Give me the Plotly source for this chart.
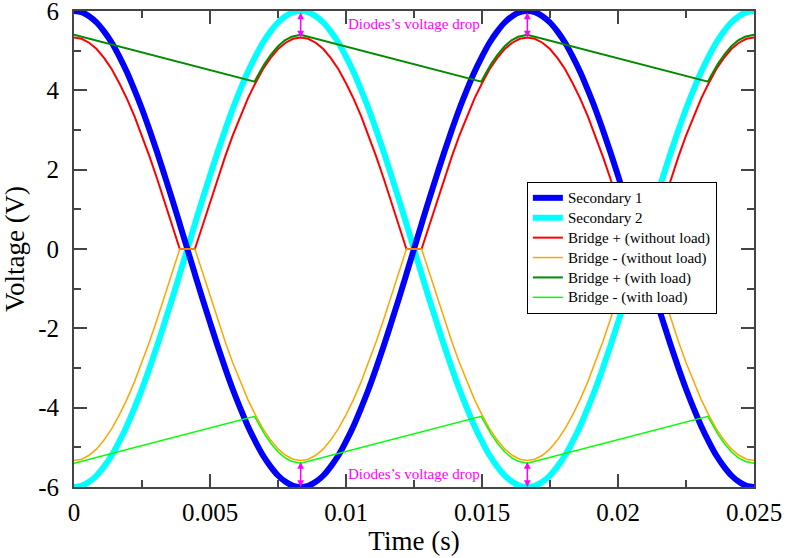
import plotly.graph_objects as go

# ---- data ----
t_grid = [0.0, 0.000278, 0.000556, 0.000833, 0.001111, 0.001389, 0.001667, 0.001944, 0.002222, 0.0025,
          0.002778, 0.003056, 0.003333, 0.003611, 0.003889, 0.004167, 0.004444, 0.004722, 0.005, 0.005278,
          0.005556, 0.005833, 0.006111, 0.006389, 0.006667, 0.006944, 0.007222, 0.0075, 0.007778, 0.008056,
          0.008333, 0.008611, 0.008889, 0.009167, 0.009444, 0.009722, 0.01, 0.010278, 0.010556, 0.010833,
          0.011111, 0.011389, 0.011667, 0.011944, 0.012222, 0.0125, 0.012778, 0.013056, 0.013333, 0.013611,
          0.013889, 0.014167, 0.014444, 0.014722, 0.015, 0.015278, 0.015556, 0.015833, 0.016111, 0.016389,
          0.016667, 0.016944, 0.017222, 0.0175, 0.017778, 0.018056, 0.018333, 0.018611, 0.018889, 0.019167,
          0.019444, 0.019722, 0.02, 0.020278, 0.020556, 0.020833, 0.021111, 0.021389, 0.021667, 0.021944,
          0.022222, 0.0225, 0.022778, 0.023056, 0.023333, 0.023611, 0.023889, 0.024167, 0.024444, 0.024722,
          0.025]

secondary1 = [6.00, 5.97, 5.87, 5.71, 5.48, 5.20, 4.85, 4.46, 4.01, 3.53, 3.00, 2.44, 1.85, 1.25, 0.63, 0.00,
              -0.63, -1.25, -1.85, -2.44, -3.00, -3.53, -4.01, -4.46, -4.85, -5.20, -5.48, -5.71, -5.87, -5.97, -6.00,
              -5.97, -5.87, -5.71, -5.48, -5.20, -4.85, -4.46, -4.01, -3.53, -3.00, -2.44, -1.85, -1.25, -0.63, 0.00,
              0.63, 1.25, 1.85, 2.44, 3.00, 3.53, 4.01, 4.46, 4.85, 5.20, 5.48, 5.71, 5.87, 5.97, 6.00,
              5.97, 5.87, 5.71, 5.48, 5.20, 4.85, 4.46, 4.01, 3.53, 3.00, 2.44, 1.85, 1.25, 0.63, 0.00,
              -0.63, -1.25, -1.85, -2.44, -3.00, -3.53, -4.01, -4.46, -4.85, -5.20, -5.48, -5.71, -5.87, -5.97, -6.00]

secondary2 = [-6.00, -5.97, -5.87, -5.71, -5.48, -5.20, -4.85, -4.46, -4.01, -3.53, -3.00, -2.44, -1.85, -1.25, -0.63, 0.00,
              0.63, 1.25, 1.85, 2.44, 3.00, 3.53, 4.01, 4.46, 4.85, 5.20, 5.48, 5.71, 5.87, 5.97, 6.00,
              5.97, 5.87, 5.71, 5.48, 5.20, 4.85, 4.46, 4.01, 3.53, 3.00, 2.44, 1.85, 1.25, 0.63, 0.00,
              -0.63, -1.25, -1.85, -2.44, -3.00, -3.53, -4.01, -4.46, -4.85, -5.20, -5.48, -5.71, -5.87, -5.97, -6.00,
              -5.97, -5.87, -5.71, -5.48, -5.20, -4.85, -4.46, -4.01, -3.53, -3.00, -2.44, -1.85, -1.25, -0.63, 0.00,
              0.63, 1.25, 1.85, 2.44, 3.00, 3.53, 4.01, 4.46, 4.85, 5.20, 5.48, 5.71, 5.87, 5.97, 6.00]

bridge_pos_noload = [5.33, 5.30, 5.20, 5.04, 4.81, 4.53, 4.18, 3.79, 3.35, 2.86, 2.33, 1.77, 1.18, 0.58, 0.00, 0.00,
                     0.00, 0.58, 1.18, 1.77, 2.33, 2.86, 3.35, 3.79, 4.18, 4.53, 4.81, 5.04, 5.20, 5.30, 5.33,
                     5.30, 5.20, 5.04, 4.81, 4.53, 4.18, 3.79, 3.35, 2.86, 2.33, 1.77, 1.18, 0.58, 0.00, 0.00,
                     0.00, 0.58, 1.18, 1.77, 2.33, 2.86, 3.35, 3.79, 4.18, 4.53, 4.81, 5.04, 5.20, 5.30, 5.33,
                     5.30, 5.20, 5.04, 4.81, 4.53, 4.18, 3.79, 3.35, 2.86, 2.33, 1.77, 1.18, 0.58, 0.00, 0.00,
                     0.00, 0.58, 1.18, 1.77, 2.33, 2.86, 3.35, 3.79, 4.18, 4.53, 4.81, 5.04, 5.20, 5.30, 5.33]

bridge_neg_noload = [-5.33, -5.30, -5.20, -5.04, -4.81, -4.53, -4.18, -3.79, -3.35, -2.86, -2.33, -1.77, -1.18, -0.58, 0.00, 0.00,
                     0.00, -0.58, -1.18, -1.77, -2.33, -2.86, -3.35, -3.79, -4.18, -4.53, -4.81, -5.04, -5.20, -5.30, -5.33,
                     -5.30, -5.20, -5.04, -4.81, -4.53, -4.18, -3.79, -3.35, -2.86, -2.33, -1.77, -1.18, -0.58, 0.00, 0.00,
                     0.00, -0.58, -1.18, -1.77, -2.33, -2.86, -3.35, -3.79, -4.18, -4.53, -4.81, -5.04, -5.20, -5.30, -5.33,
                     -5.30, -5.20, -5.04, -4.81, -4.53, -4.18, -3.79, -3.35, -2.86, -2.33, -1.77, -1.18, -0.58, 0.00, 0.00,
                     0.00, -0.58, -1.18, -1.77, -2.33, -2.86, -3.35, -3.79, -4.18, -4.53, -4.81, -5.04, -5.20, -5.30, -5.33]

t_load = [0.0, 0.00664, 0.00675, 0.007, 0.00725, 0.0075, 0.00775, 0.008, 0.008333,
          0.014973, 0.015083, 0.015333, 0.015583, 0.015833, 0.016083, 0.016333, 0.016667,
          0.023307, 0.023417, 0.023667, 0.023917, 0.024167, 0.024417, 0.024667, 0.025]
bridge_pos_load = [5.40, 4.22, 4.36, 4.66, 4.91, 5.11, 5.26, 5.35, 5.40,
                   4.22, 4.36, 4.66, 4.91, 5.11, 5.26, 5.35, 5.40,
                   4.22, 4.36, 4.66, 4.91, 5.11, 5.26, 5.35, 5.40]
bridge_neg_load = [-5.40, -4.22, -4.36, -4.66, -4.91, -5.11, -5.26, -5.35, -5.40,
                   -4.22, -4.36, -4.66, -4.91, -5.11, -5.26, -5.35, -5.40,
                   -4.22, -4.36, -4.66, -4.91, -5.11, -5.26, -5.35, -5.40]

series_names = ["Secondary 1", "Secondary 2", "Bridge + (without load)",
                "Bridge - (without load)", "Bridge + (with load)", "Bridge - (with load)"]

x_ticks = [0, 0.005, 0.01, 0.015, 0.02, 0.025]
x_labels = ["0", "0.005", "0.01", "0.015", "0.02", "0.025"]
y_ticks = [-6, -4, -2, 0, 2, 4, 6]
y_labels = ["-6", "-4", "-2", "0", "2", "4", "6"]

drop_times = [0.008333, 0.016667]
drop_top = [(6.0, 5.33), (6.0, 5.33)]
drop_bottom = [(-5.33, -6.0), (-5.33, -6.0)]
drop_label = "Diodes’s voltage drop"
drop_label_pos = [(0.0125, 5.67), (0.0125, -5.67)]

FONT = "Liberation Serif"


def leg(name):
    return "<span style='font-size:15px'>" + name + "</span>"


fig = go.Figure()
fig.add_trace(go.Scatter(x=t_grid, y=secondary2, mode="lines", name=leg(series_names[1]),
                         line=dict(color="#00ffff", width=6, shape="spline"), legendrank=2))
fig.add_trace(go.Scatter(x=t_grid, y=secondary1, mode="lines", name=leg(series_names[0]),
                         line=dict(color="#0000ff", width=6, shape="spline"), legendrank=1))
fig.add_trace(go.Scatter(x=t_grid, y=bridge_pos_noload, mode="lines",
                         name=leg(series_names[2]),
                         line=dict(color="#ff0000", width=2), legendrank=3))
fig.add_trace(go.Scatter(x=t_grid, y=bridge_neg_noload, mode="lines",
                         name=leg(series_names[3]),
                         line=dict(color="#ffa500", width=1.5), legendrank=4))
fig.add_trace(go.Scatter(x=t_load, y=bridge_pos_load, mode="lines",
                         name=leg(series_names[4]),
                         line=dict(color="#008b00", width=2), legendrank=5))
fig.add_trace(go.Scatter(x=t_load, y=bridge_neg_load, mode="lines",
                         name=leg(series_names[5]),
                         line=dict(color="#00ff00", width=1.5), legendrank=6))

annotations = []
for tt, (ya, yb) in list(zip(drop_times, drop_top)) + list(zip(drop_times, drop_bottom)):
    annotations.append(dict(x=tt, y=yb, ax=tt, ay=ya, xref="x", yref="y",
                            axref="x", ayref="y", text="", showarrow=True,
                            arrowhead=2, startarrowhead=2, arrowside="end+start",
                            arrowsize=0.9, arrowwidth=1.5, arrowcolor="#ff00ff",
                            standoff=0, startstandoff=0))
for (lx, ly) in drop_label_pos:
    annotations.append(dict(x=lx, y=ly, xref="x", yref="y", text=drop_label,
                            showarrow=False, font=dict(family=FONT, size=15, color="#ff00ff")))

axis_common = dict(showline=True, linecolor="#444444", linewidth=2, mirror="ticks",
                   ticks="inside", ticklen=13, tickwidth=1.5, tickcolor="#444444",
                   showgrid=False, zeroline=False, automargin=False,
                   ticklabeloverflow="allow",
                   tickfont=dict(family=FONT, size=25, color="black"))

fig.update_layout(
    width=786, height=558,
    margin=dict(l=74, r=32, t=11, b=71),
    paper_bgcolor="white", plot_bgcolor="white",
    font=dict(family=FONT, color="black"),
    showlegend=True,
    legend=dict(x=0.666, y=0.641, xanchor="left", yanchor="top",
                bgcolor="white", bordercolor="black", borderwidth=1,
                font=dict(family=FONT, size=13, color="black"),
                tracegroupgap=0),
    annotations=annotations,
)
fig.update_xaxes(range=[0, 0.025], tickvals=x_ticks, ticktext=x_labels,
                 minor=dict(dtick=0.0025, tick0=0, ticks="inside", ticklen=7,
                            tickcolor="#444444", tickwidth=1.5),
                 title=dict(text="Time (s)", font=dict(family=FONT, size=27), standoff=2),
                 ticklabelstandoff=2,
                 **axis_common)
fig.update_yaxes(range=[-6, 6], tickvals=y_ticks, ticktext=y_labels,
                 minor=dict(dtick=1, tick0=0, ticks="inside", ticklen=7,
                            tickcolor="#444444", tickwidth=1.5),
                 title=dict(text="Voltage (V)", font=dict(family=FONT, size=27), standoff=10),
                 ticklabelstandoff=8,
                 **axis_common)

fig.write_html("out.html", config={"displayModeBar": False},
               post_script="document.body.style.margin='0';document.body.style.padding='0';")
